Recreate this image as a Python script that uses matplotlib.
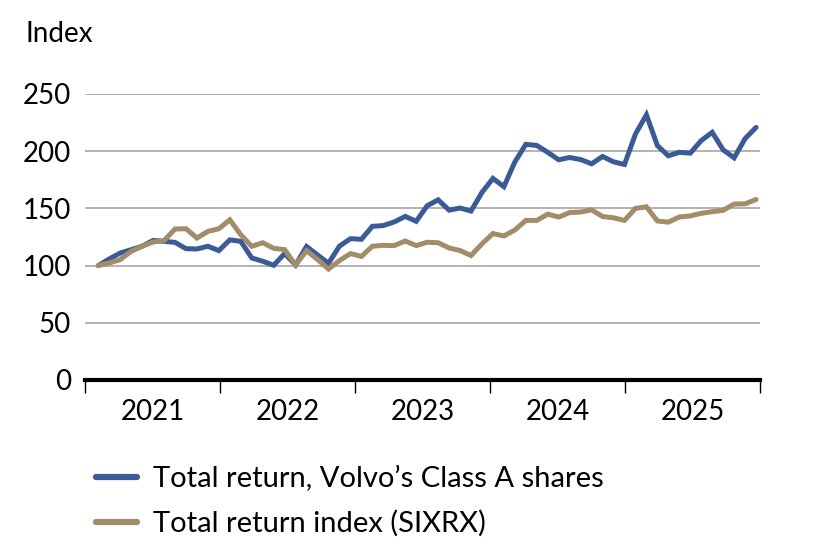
import matplotlib.pyplot as plt
import numpy as np

plt.rcParams['font.family'] = ['Lato', 'DejaVu Sans']

# monthly index values, start = 100
volvo = [100, 105.8, 111, 113.9, 116.9, 122, 121.2, 120.3, 114.8, 114.5, 116.9, 113.1,
         122.5, 121.2, 106.7, 103.8, 100.3, 110.5, 100.6, 116.7, 109.3, 102, 117, 123.5,
         123, 134.3, 135, 138.2, 143, 138.7, 152.3, 157.5, 148.5, 150.3, 147.7, 164,
         176.2, 169, 190.6, 206, 205, 199, 192.5, 194.5, 192.7, 189, 195.4, 190.7,
         188.4, 215, 231.8, 204.9, 196, 199, 198.3, 209.3, 216.5, 201.2, 194.2, 211, 220.8]
sixrx = [100, 102.3, 105.2, 112.5, 116.9, 120.6, 121.8, 132, 132.2, 124.1, 129.9, 132.2,
         140, 127, 116.8, 120, 115.1, 114, 100.5, 113, 105.4, 97, 104.4, 110.5,
         108, 116.9, 117.7, 117.5, 121.5, 117.5, 120.4, 120, 115.4, 113.2, 108.8, 119,
         128, 125.9, 131.1, 139.5, 139.5, 145, 142.4, 146.4, 146.8, 148.7, 142.9, 141.8,
         139.5, 150, 151.4, 139, 138, 142.5, 143.4, 145.7, 147.1, 148.3, 153.8, 154, 157.8]
years = ['2021', '2022', '2023', '2024', '2025']
yticks = [0, 50, 100, 150, 200, 250]

blue = '#3b5b97'
tan = '#a28d6b'

fig = plt.figure(figsize=(8.27, 5.55), dpi=100)
ax = fig.add_axes([85 / 827, 175 / 555, 675 / 827, 286 / 555])

x = np.arange(len(volvo))
ax.plot(x, volvo, color=blue, lw=3.6, label='Total return, Volvo\u2019s Class A shares',
        solid_joinstyle='miter', solid_capstyle='round', zorder=3)
ax.plot(x, sixrx, color=tan, lw=3.6, label='Total return index (SIXRX)',
        solid_joinstyle='miter', solid_capstyle='round', zorder=4)

x0, x1 = -1.21, 60.36
ax.set_xlim(x0, x1)
ax.set_ylim(0, 250)

for s in ['top', 'right', 'left']:
    ax.spines[s].set_visible(False)
ax.spines['bottom'].set_linewidth(3)
ax.spines['bottom'].set_zorder(5)

ax.set_yticks(yticks)
ax.set_yticklabels([str(v) for v in yticks], fontsize=20)
ax.tick_params(axis='y', length=0, pad=10)
for v in yticks[1:]:
    ax.axhline(v, color='#a6a6a6', lw=1.2, zorder=1)

w = (x1 - x0) / len(years)
ax.set_xticks([x0 + k * w for k in range(len(years) + 1)])
ax.set_xticklabels([])
ax.tick_params(axis='x', length=9, width=1, direction='out')
ax.set_xticks([x0 + (k + 0.5) * w for k in range(len(years))], minor=True)
ax.set_xticklabels(years, minor=True, fontsize=20)
ax.tick_params(axis='x', which='minor', length=0, pad=14)

fig.text(25 / 827, 1 - 34 / 555, 'Index', fontsize=20, va='center', ha='left')

leg = ax.legend(loc='upper left', bbox_to_anchor=(96 / 827, 1 - 466 / 555),
                bbox_transform=fig.transFigure, frameon=False, fontsize=21,
                handlelength=1.4, handletextpad=0.55, labelspacing=0.62,
                borderpad=0, borderaxespad=0)
for h in leg.get_lines():
    h.set_linewidth(4.5)

fig.savefig('out.png', dpi=100)
